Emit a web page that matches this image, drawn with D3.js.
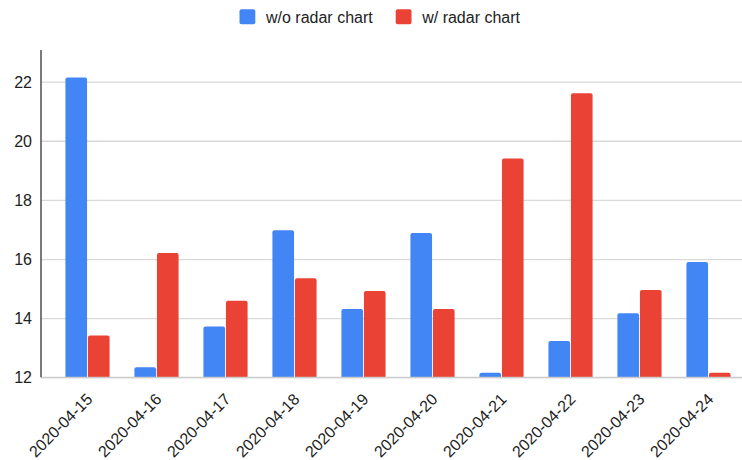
<!DOCTYPE html>
<html><head><meta charset="utf-8">
<script src="https://cdn.jsdelivr.net/npm/d3@7"></script>
<style>body{margin:0;background:#fff}svg{display:block;font-family:"Liberation Sans",Arial,sans-serif}</style>
</head><body>
<svg id="c" width="742" height="460"></svg>
<script>
const dates = ["2020-04-15","2020-04-16","2020-04-17","2020-04-18","2020-04-19","2020-04-20","2020-04-21","2020-04-22","2020-04-23","2020-04-24"];
const seriesNames = ["w/o radar chart","w/ radar chart"];
const withoutRadar = [22.14,12.34,13.72,16.97,14.31,16.88,12.15,13.23,14.17,15.90];
const withRadar = [13.41,16.20,14.59,15.35,14.92,14.31,19.40,21.61,14.95,12.15];
const yTicks = [12,14,16,18,20,22];
const colors = ["#4285F4","#EA4335"];

(function(){
const svg = d3.select("#c");
const mLeft = 41, mRight = 742, mTop = 50, mBottom = 377.3;
const y = d3.scaleLinear().domain([12, 23.07]).range([mBottom, mTop]);
const x = d3.scaleBand().domain(dates).range([53, 743]).paddingInner(0.36).paddingOuter(0.18);
const xs = d3.scaleBand().domain(seriesNames).range([0, x.bandwidth()]).paddingInner(0.04);

// gridlines
const yAxis = d3.axisLeft(y).tickValues(yTicks).tickSize(-(mRight-mLeft)).tickFormat(d3.format("d")).tickPadding(8);
const gy = svg.append("g").attr("transform",`translate(${mLeft},0)`).call(yAxis);
gy.select(".domain").remove();
gy.selectAll(".tick line").attr("stroke","#d9d9d9").attr("stroke-width",1.3);
gy.selectAll(".tick text").attr("font-size",16).attr("fill","#222").attr("x",-9).attr("dy","0.35em");

function roundedTop(x0,y0,w,h,r){
  r = Math.min(r, h, w/2);
  return `M${x0},${y0+h}V${y0+r}Q${x0},${y0} ${x0+r},${y0}H${x0+w-r}Q${x0+w},${y0} ${x0+w},${y0+r}V${y0+h}Z`;
}
// bars
const data = [withoutRadar, withRadar];
dates.forEach((d,i)=>{
  seriesNames.forEach((s,j)=>{
    const v = data[j][i];
    const h = mBottom - y(v);
    svg.append("path")
      .attr("fill", colors[j])
      .attr("d", roundedTop(x(d)+xs(s), y(v), xs.bandwidth(), h, 2));
  });
});

// baseline
svg.append("line").attr("x1",mLeft).attr("x2",mRight).attr("y1",mBottom).attr("y2",mBottom).attr("stroke","#cccccc").attr("stroke-width",1.3);
// y axis line
svg.append("line").attr("x1",mLeft).attr("x2",mLeft).attr("y1",mTop).attr("y2",mBottom).attr("stroke","#333").attr("stroke-width",1.3);

// x labels
const xAxis = d3.axisBottom(x).tickSize(0).tickPadding(0);
const gx = svg.append("g").attr("transform",`translate(0,${mBottom})`).call(xAxis);
gx.select(".domain").remove();
gx.selectAll(".tick text")
  .attr("font-size",16).attr("fill","#222")
  .attr("text-anchor","end").attr("dy",0).attr("y",0)
  .attr("transform","translate(6,23) rotate(-45)");

// legend
const legend = svg.append("g");
const legendX = [239.5, 395.7];
seriesNames.forEach((s,j)=>{
  legend.append("rect").attr("x",legendX[j]).attr("y",9.3).attr("width",15.8).attr("height",15).attr("rx",2).attr("fill",colors[j]);
  legend.append("text").attr("x",legendX[j]+26.5).attr("y",22.5).attr("font-size",16).attr("fill","#222").text(s);
});
})();
</script>
</body></html>
